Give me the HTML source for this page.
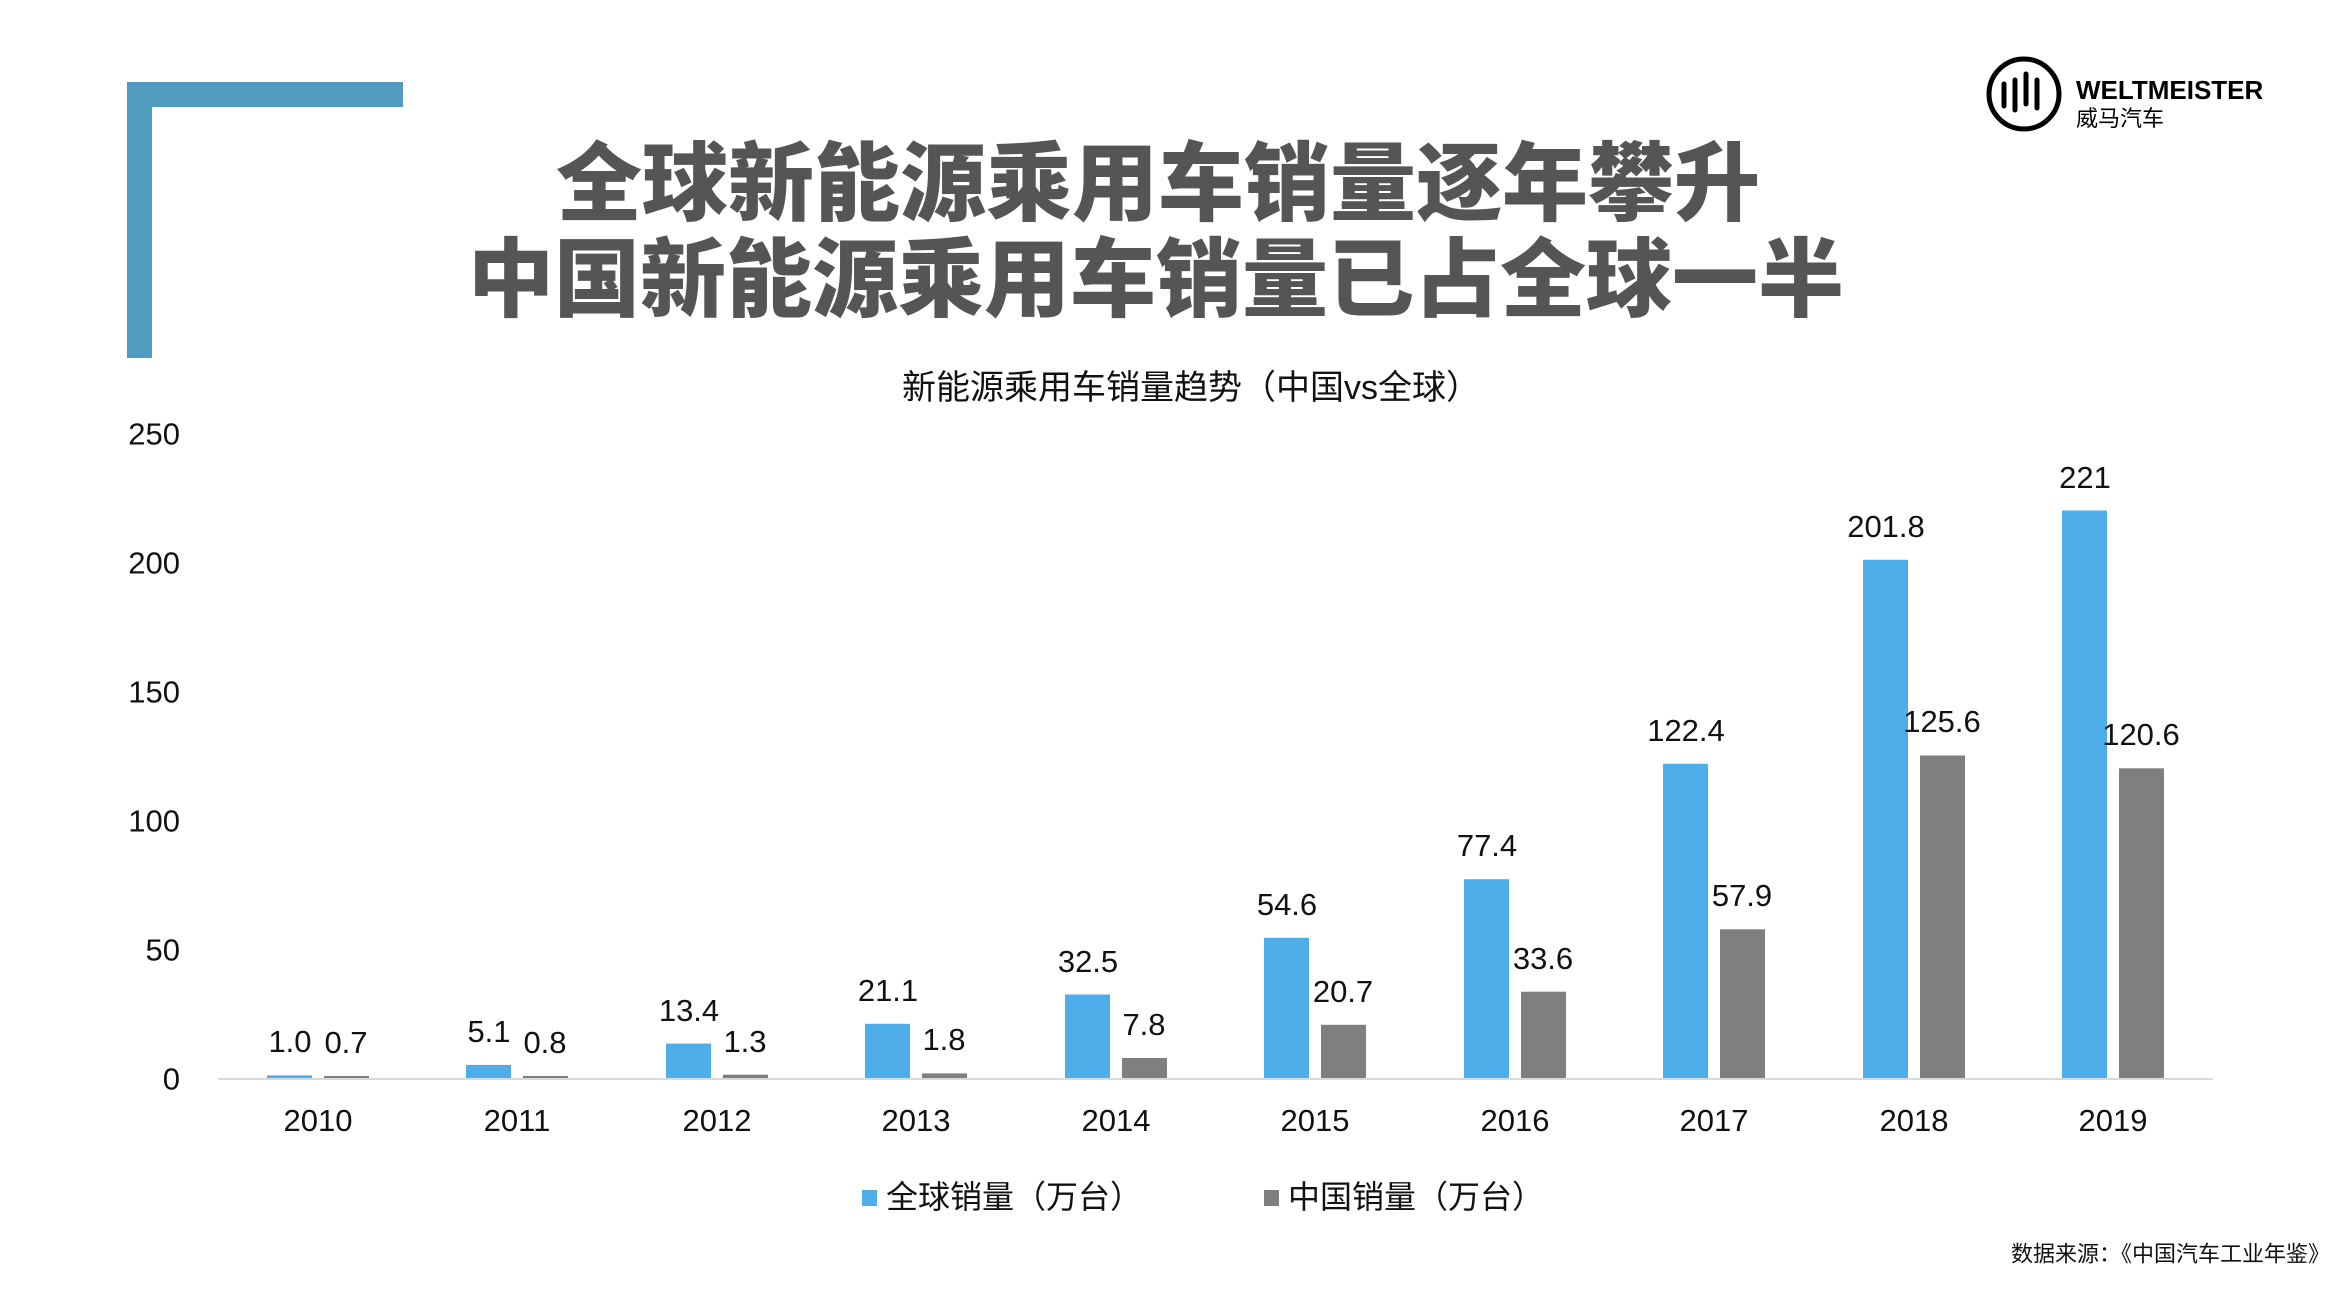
<!DOCTYPE html>
<html><head><meta charset="utf-8"><style>
html,body{margin:0;padding:0;background:#fff;}
svg{display:block;}
</style></head><body>
<svg width="2340" height="1306" viewBox="0 0 2340 1306" xmlns="http://www.w3.org/2000/svg">
<rect x="0" y="0" width="2340" height="1306" fill="#fff"/>
<rect x="127" y="82" width="276" height="25" fill="#519bbf"/>
<rect x="127" y="82" width="25" height="276" fill="#519bbf"/>
<g font-family="'Noto Sans CJK SC', sans-serif" font-weight="900" font-size="86" fill="#555" text-anchor="middle" dominant-baseline="central">
<text x="1158" y="176">全球新能源乘用车销量逐年攀升</text>
<text x="1156" y="272">中国新能源乘用车销量已占全球一半</text>
</g>
<circle cx="2024" cy="94" r="35" fill="none" stroke="#000" stroke-width="5"/>
<g stroke="#000" stroke-width="5" stroke-linecap="round">
<line x1="2004" y1="84" x2="2004" y2="106"/>
<line x1="2015" y1="80" x2="2015" y2="110"/>
<line x1="2026" y1="74" x2="2026" y2="104"/>
<line x1="2037" y1="80" x2="2037" y2="108"/>
</g>
<text x="2076" y="99" font-family="'Liberation Sans', sans-serif" font-weight="bold" font-size="26" fill="#000">WELTMEISTER</text>
<text x="2076" y="126" font-family="'Liberation Sans','Noto Sans CJK SC', sans-serif" font-size="22" fill="#000">威马汽车</text>
<text x="1191" y="388" font-family="'Liberation Sans','Noto Sans CJK SC', sans-serif" font-size="34" fill="#111" text-anchor="middle" dominant-baseline="central">新能源乘用车销量趋势（中国vs全球）</text>
<g font-family="'Liberation Sans','Noto Sans CJK SC', sans-serif" font-size="31" fill="#111" text-anchor="end" dominant-baseline="central">
<text x="180" y="1079">0</text>
<text x="180" y="950">50</text>
<text x="180" y="821">100</text>
<text x="180" y="692">150</text>
<text x="180" y="563">200</text>
<text x="180" y="434">250</text>
</g>
<line x1="218" y1="1079" x2="2213" y2="1079" stroke="#d9d9d9" stroke-width="2"/>
<g fill="#4daeea">
<rect x="267" y="1075.4" width="45" height="2.6"/>
<rect x="466" y="1064.9" width="45" height="13.1"/>
<rect x="666" y="1043.6" width="45" height="34.4"/>
<rect x="865" y="1023.8" width="45" height="54.2"/>
<rect x="1065" y="994.5" width="45" height="83.5"/>
<rect x="1264" y="937.8" width="45" height="140.2"/>
<rect x="1464" y="879.2" width="45" height="198.8"/>
<rect x="1663" y="763.7" width="45" height="314.3"/>
<rect x="1863" y="559.8" width="45" height="518.2"/>
<rect x="2062" y="510.5" width="45" height="567.5"/>
</g>
<g fill="#7f7f7f">
<rect x="324" y="1076" width="45" height="2"/>
<rect x="523" y="1076" width="45" height="2"/>
<rect x="723" y="1074.7" width="45" height="3.3"/>
<rect x="922" y="1073.4" width="45" height="4.6"/>
<rect x="1122" y="1058" width="45" height="20"/>
<rect x="1321" y="1024.8" width="45" height="53.2"/>
<rect x="1521" y="991.7" width="45" height="86.3"/>
<rect x="1720" y="929.3" width="45" height="148.7"/>
<rect x="1920" y="755.5" width="45" height="322.5"/>
<rect x="2119" y="768.3" width="45" height="309.7"/>
</g>
<g font-family="'Liberation Sans', sans-serif" font-size="31" fill="#111" text-anchor="middle">
<text x="290" y="1052">1.0</text><text x="346" y="1053">0.7</text>
<text x="489" y="1042">5.1</text><text x="545" y="1053">0.8</text>
<text x="689" y="1021">13.4</text><text x="745" y="1052">1.3</text>
<text x="888" y="1001">21.1</text><text x="944" y="1050">1.8</text>
<text x="1088" y="972">32.5</text><text x="1144" y="1035">7.8</text>
<text x="1287" y="915">54.6</text><text x="1343" y="1002">20.7</text>
<text x="1487" y="856">77.4</text><text x="1543" y="969">33.6</text>
<text x="1686" y="741">122.4</text><text x="1742" y="906">57.9</text>
<text x="1886" y="537">201.8</text><text x="1942" y="732">125.6</text>
<text x="2085" y="488">221</text><text x="2141" y="745">120.6</text>
<text x="318" y="1131">2010</text><text x="517" y="1131">2011</text>
<text x="717" y="1131">2012</text><text x="916" y="1131">2013</text>
<text x="1116" y="1131">2014</text><text x="1315" y="1131">2015</text>
<text x="1515" y="1131">2016</text><text x="1714" y="1131">2017</text>
<text x="1914" y="1131">2018</text><text x="2113" y="1131">2019</text>
</g>
<g font-family="'Liberation Sans','Noto Sans CJK SC', sans-serif" font-size="32" fill="#111" dominant-baseline="central">
<rect x="862" y="1190" width="15" height="16" fill="#4daeea"/>
<text x="886" y="1197">全球销量（万台）</text>
<rect x="1264" y="1190" width="15" height="16" fill="#7f7f7f"/>
<text x="1288" y="1197">中国销量（万台）</text>
</g>
<text x="2330" y="1254" font-family="'Liberation Sans','Noto Sans CJK SC', sans-serif" font-size="22" fill="#111" text-anchor="end" dominant-baseline="central">数据来源：《中国汽车工业年鉴》</text>
</svg>
</body></html>
